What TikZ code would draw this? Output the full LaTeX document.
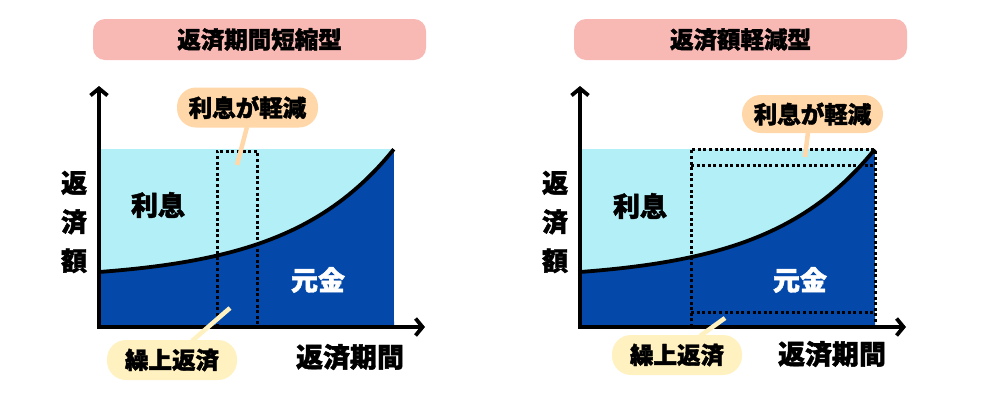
\documentclass[tikz,border=0pt]{standalone}
\usepackage{fontspec}
\setmainfont{Noto Sans CJK JP}[BoldFeatures={FakeBold=1.6}]
\usetikzlibrary{arrows.meta}
\definecolor{titlepink}{HTML}{F8B8B4}
\definecolor{peach}{HTML}{FFD7A8}
\definecolor{cream}{HTML}{FFF1C0}
\definecolor{skyfill}{HTML}{B3EFF6}
\definecolor{navyfill}{HTML}{0449AA}
\tikzset{
  titlebox/.style={fill=titlepink, rounded corners=12pt, minimum width=333pt, minimum height=41pt, font=\bfseries\fontsize{23.5}{23.5}\selectfont},
  pill/.style={rounded corners=19pt, minimum width=141pt, minimum height=40pt, inner sep=0pt, font=\bfseries\fontsize{23.5}{23.5}\selectfont},
  lbl/.style={font=\bfseries\fontsize{27}{27}\selectfont},
  vlbl/.style={align=center, font=\bfseries\fontsize{26}{39}\selectfont},
  dots/.style={line width=3pt, dash pattern=on 3pt off 2.6pt},
  lead/.style={line width=4.5pt}
}
\begin{document}
\begin{tikzpicture}[x=1pt, y=-1pt]
  \useasboundingbox (0,0) rectangle (1000,400);
  \foreach \ox in {99,580} {
    \fill[skyfill] (\ox,149) rectangle (\ox+295,327);
    \fill[navyfill] (\ox,327) -- plot[domain=0:1, samples=60] ({\ox+295*\x},{327-55-123*(exp(2.8*\x)-1)/(exp(2.8)-1)}) -- (\ox+295,327) -- cycle;
    \draw[line width=3.8pt] plot[domain=0:1, samples=60] ({\ox+295*\x},{327-55-123*(exp(2.8*\x)-1)/(exp(2.8)-1)});
  }
  \draw[dots] (217,327) -- (217,151) -- (257,151) -- (257,327);
  \draw[dots] (691,327) -- (691,149) -- (875,149) -- (875,327);
  \draw[dots] (691,165) -- (875,165);
  \draw[dots] (691,312) -- (875,312);
  \foreach \ox in {99,580}
    \draw[line width=3.8pt, {Straight Barb[length=7pt,width=17pt]}-{Straight Barb[length=7pt,width=17pt]}] (\ox,86) |- (\ox+326,327);
  \node[titlebox] (titleL) at (259.5,39.5) {返済期間短縮型};
  \node[titlebox] (titleR) at (740.5,39.5) {返済額軽減型};
  \node[lbl] (riL) at (158,205) {利息};
  \node[lbl, white] (genL) at (318,280) {元金};
  \node[vlbl] (gakuL) at (74,222) {返\\済\\額};
  \node[lbl] (kikanL) at (350,357) {返済期間};
  \node[lbl] (riR) at (640,206) {利息};
  \node[lbl, white] (genR) at (800,280) {元金};
  \node[vlbl] (gakuR) at (555,222) {返\\済\\額};
  \node[lbl] (kikanR) at (832,354) {返済期間};
  \coordinate (ptRiL) at (237,165);
  \coordinate (ptKuL) at (230,308);
  \coordinate (ptRiR) at (805,157);
  \coordinate (ptKuR) at (725,318);
  \draw[lead, peach] (247,127) -- (ptRiL);
  \draw[lead, cream] (192,341) -- (ptKuL);
  \draw[lead, peach] (808,132) -- (ptRiR);
  \draw[lead, cream] (700,336) -- (ptKuR);
  \node[pill, fill=peach] (keiL) at (247.5,107.5) {利息が軽減};
  \node[pill, fill=cream, minimum width=130pt] (kuriL) at (172,360) {繰上返済};
  \node[pill, fill=peach, minimum height=38pt] (keiR) at (812.5,114) {利息が軽減};
  \node[pill, fill=cream, minimum width=130pt] (kuriR) at (677,355) {繰上返済};
\end{tikzpicture}
\end{document}
